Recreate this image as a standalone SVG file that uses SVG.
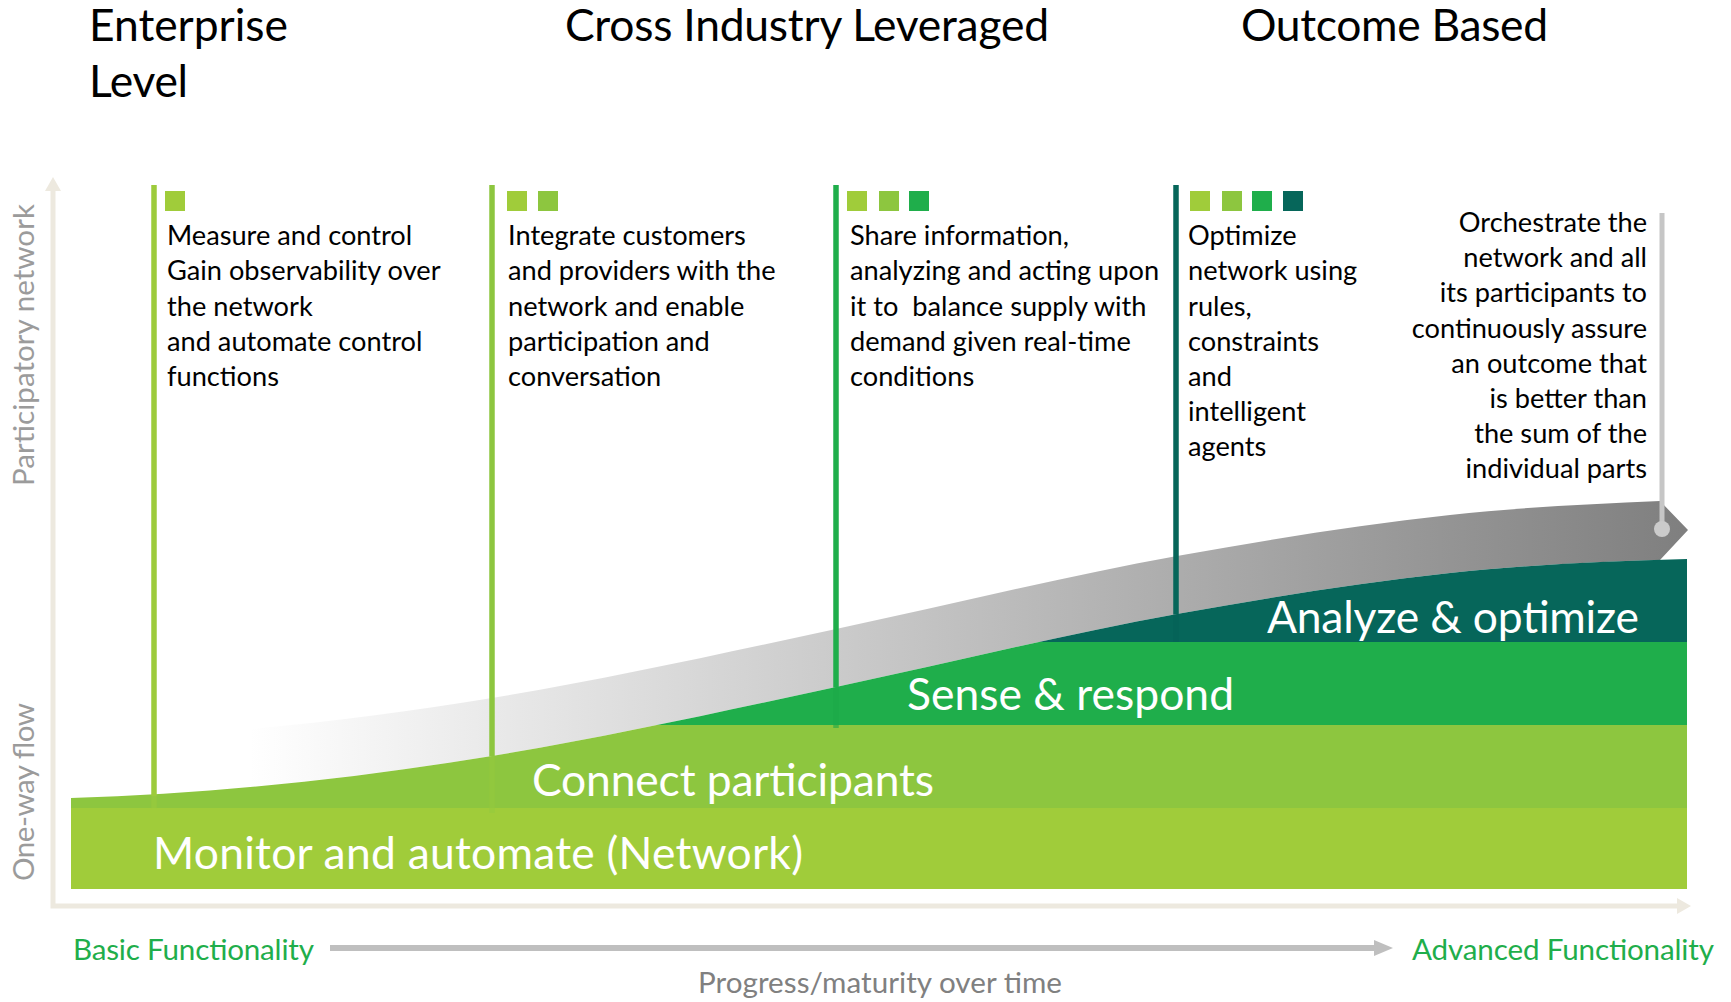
<svg xmlns="http://www.w3.org/2000/svg" width="1731" height="1002" viewBox="0 0 1731 1002">
  <style>
    text { font-family: Lato, "Open Sans", "Liberation Sans", sans-serif; }
    .h { font-size: 44.4px; fill: #000; }
    .b { font-size: 27.2px; fill: #000; }
    .band { font-size: 44.4px; fill: #fff; }
    .ax { font-size: 29.6px; fill: #9b9b9b; }
    .fn { font-size: 29.6px; fill: #1fae4b; }
    .prog { font-size: 29.6px; fill: #808080; }
    .axis { stroke: #ede9df; stroke-width: 5; fill: none; }
    .axhead { fill: #ede9df; }
    .stem { stroke-width: 5.5; fill: none; }
  </style>
  <defs>
    <linearGradient id="ribbonFill" gradientUnits="userSpaceOnUse" x1="250" y1="0" x2="1687" y2="0">
      <stop offset="0" stop-color="#ffffff"/>
      <stop offset="1" stop-color="#7f7f7f"/>
    </linearGradient>
    <!-- area beneath the lower edge of the maturity ribbon -->
    <clipPath id="underCurve">
      <path d="M71,798 C211.3,793.8 351.7,779.1 492,756 C606.7,737.1 721.3,711.7 836,687 C949.7,662.6 1063.3,634.5 1177,614 C1268,597.6 1359,583 1450,573 C1529,564.3 1608,561.4 1687,559 L1687,895 L71,895 Z"/>
    </clipPath>
  </defs>

  <!-- headings -->
  <g id="headings">
    <text class="h" x="89" y="41" textLength="199">Enterprise</text>
    <text class="h" x="89" y="97" textLength="99">Level</text>
    <text class="h" x="565" y="41" textLength="484">Cross Industry Leveraged</text>
    <text class="h" x="1241" y="41" textLength="307">Outcome Based</text>
  </g>

  <!-- axes -->
  <g id="axes">
    <path class="axis" d="M53,188 L53,906 L1679,906"/>
    <polygon class="axhead" points="53,177 61,191 45,191"/>
    <polygon class="axhead" points="1691,906 1677,898 1677,914"/>
    <text class="ax" transform="translate(34,486) rotate(-90)" textLength="282">Participatory network</text>
    <text class="ax" transform="translate(34,881) rotate(-90)" textLength="178">One-way flow</text>
  </g>

  <!-- maturity ribbon -->
  <g id="ribbon">
    <path fill="url(#ribbonFill)" d="M71,798 C211.3,793.8 351.7,779.1 492,756 C606.7,737.1 721.3,711.7 836,687 C949.7,662.6 1063.3,634.5 1177,614 C1268,597.6 1359,583 1450,573 C1520,565.3 1590,562.1 1660,560 L1688,530 L1660,501 C1590,504.1 1520,507.3 1450,515 C1359,525 1268,539.6 1177,556 C1063.3,576.5 949.7,604.6 836,629 C721.3,653.7 606.7,679.1 492,698 C351.7,721.1 211.3,735.8 71,740 Z"/>
  </g>

  <!-- layered capability bands -->
  <g id="bands" clip-path="url(#underCurve)">
    <rect x="71" y="808" width="1616" height="81" fill="#a0cc3a"/>
    <rect x="71" y="725" width="1616" height="83" fill="#8dc63f"/>
    <rect x="71" y="642" width="1616" height="83" fill="#1fae4b"/>
    <rect x="71" y="540" width="1616" height="102" fill="#06665a"/>
  </g>

  <!-- stage markers -->
  <g id="connectors">
    <line class="stem" x1="154" y1="185" x2="154" y2="796" stroke="#9dcb3b"/>
    <line class="stem" x1="154" y1="796" x2="154" y2="809" stroke="#9dcb3b" stroke-opacity="0.5"/>
    <line class="stem" x1="492" y1="185" x2="492" y2="756" stroke="#8dc63f"/>
    <line class="stem" x1="492" y1="756" x2="492" y2="813" stroke="#94c93d" stroke-opacity="0.6"/>
    <line class="stem" x1="836" y1="185" x2="836" y2="687" stroke="#1fae4b"/>
    <line class="stem" x1="836" y1="687" x2="836" y2="728" stroke="#1ca948" stroke-opacity="0.6"/>
    <line class="stem" x1="1176" y1="185" x2="1176" y2="614" stroke="#06665a"/>
    <line class="stem" x1="1176" y1="614" x2="1176" y2="642" stroke="#056157" stroke-opacity="0.6"/>
    <line x1="1662" y1="213" x2="1662" y2="529" stroke="#c6c6c6" stroke-width="5"/>
    <circle cx="1662" cy="529" r="8" fill="#cbcbcb"/>
  </g>

  <g id="band-labels">
    <text class="band" x="153" y="869" textLength="650">Monitor and automate (Network)</text>
    <text class="band" x="532" y="796" textLength="402">Connect participants</text>
    <text class="band" x="907" y="710" textLength="327">Sense &amp; respond</text>
    <text class="band" x="1267" y="633" textLength="372">Analyze &amp; optimize</text>
  </g>

  <g id="stage-measure">
    <rect x="165" y="191" width="20" height="20" fill="#a0cc3a"/>
    <text class="b" x="167" y="245">Measure and control</text>
    <text class="b" x="167" y="280">Gain observability over</text>
    <text class="b" x="167" y="316">the network</text>
    <text class="b" x="167" y="351">and automate control</text>
    <text class="b" x="167" y="386">functions</text>
  </g>

  <g id="stage-integrate">
    <rect x="507" y="191" width="20" height="20" fill="#a0cc3a"/>
    <rect x="538" y="191" width="20" height="20" fill="#8dc63f"/>
    <text class="b" x="508" y="245">Integrate customers</text>
    <text class="b" x="508" y="280">and providers with the</text>
    <text class="b" x="508" y="316">network and enable</text>
    <text class="b" x="508" y="351">participation and</text>
    <text class="b" x="508" y="386">conversation</text>
  </g>

  <g id="stage-share">
    <rect x="847" y="191" width="20" height="20" fill="#a0cc3a"/>
    <rect x="879" y="191" width="20" height="20" fill="#8dc63f"/>
    <rect x="909" y="191" width="20" height="20" fill="#1fae4b"/>
    <text class="b" x="850" y="245">Share information,</text>
    <text class="b" x="850" y="280">analyzing and acting upon</text>
    <text class="b" x="850" y="316" xml:space="preserve">it to  balance supply with</text>
    <text class="b" x="850" y="351">demand given real-time</text>
    <text class="b" x="850" y="386">conditions</text>
  </g>

  <g id="stage-optimize">
    <rect x="1190" y="191" width="20" height="20" fill="#a0cc3a"/>
    <rect x="1222" y="191" width="20" height="20" fill="#8dc63f"/>
    <rect x="1252" y="191" width="20" height="20" fill="#1fae4b"/>
    <rect x="1283" y="191" width="20" height="20" fill="#06665a"/>
    <text class="b" x="1188" y="245">Optimize</text>
    <text class="b" x="1188" y="280">network using</text>
    <text class="b" x="1188" y="316">rules,</text>
    <text class="b" x="1188" y="351">constraints</text>
    <text class="b" x="1188" y="386">and</text>
    <text class="b" x="1188" y="421">intelligent</text>
    <text class="b" x="1188" y="456">agents</text>
  </g>

  <g id="stage-orchestrate" text-anchor="end">
    <text class="b" x="1647" y="232">Orchestrate the</text>
    <text class="b" x="1647" y="267">network and all</text>
    <text class="b" x="1647" y="302">its participants to</text>
    <text class="b" x="1647" y="338">continuously assure</text>
    <text class="b" x="1647" y="373">an outcome that</text>
    <text class="b" x="1647" y="408">is better than</text>
    <text class="b" x="1647" y="443">the sum of the</text>
    <text class="b" x="1647" y="478">individual parts</text>
  </g>

  <!-- functionality scale -->
  <g id="scale">
    <text class="fn" x="73" y="960" textLength="241">Basic Functionality</text>
    <line x1="330" y1="948" x2="1376" y2="948" stroke="#bfbfbf" stroke-width="6"/>
    <polygon points="1393,948 1374,940 1374,956" fill="#bfbfbf"/>
    <text class="fn" x="1412" y="960" textLength="302">Advanced Functionality</text>
    <text class="prog" x="698" y="993" textLength="364">Progress/maturity over time</text>
  </g>
</svg>
